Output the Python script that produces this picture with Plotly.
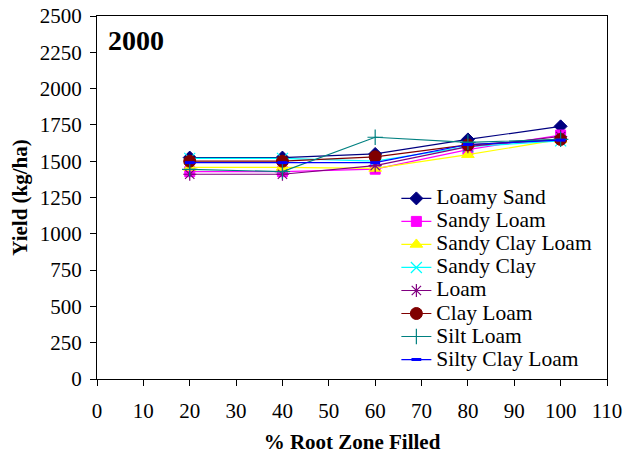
import plotly.graph_objects as go

x_vals = [20, 40, 60, 80, 100]
series_names = ["Loamy Sand", "Sandy Loam", "Sandy Clay Loam", "Sandy Clay",
                "Loam", "Clay Loam", "Silt Loam", "Silty Clay Loam"]
loamy_sand = [1525, 1525, 1550, 1650, 1740]
sandy_loam = [1428, 1428, 1445, 1580, 1680]
sandy_clay_loam = [1457, 1457, 1450, 1545, 1650]
sandy_clay = [1520, 1520, 1500, 1600, 1640]
loam = [1410, 1410, 1470, 1600, 1670]
clay_loam = [1500, 1500, 1530, 1612, 1650]
silt_loam = [1444, 1428, 1665, 1630, 1650]
silty_clay_loam = [1490, 1490, 1490, 1615, 1645]
values = [loamy_sand, sandy_loam, sandy_clay_loam, sandy_clay, loam,
          clay_loam, silt_loam, silty_clay_loam]

colors = ["#000080", "#FF00FF", "#FFFF00", "#00FFFF", "#800080", "#800000", "#008080", "#0000FF"]
symbols = ["diamond", "square", "triangle-up", "x-thin", "asterisk", "circle", "cross-thin", "line-ew"]
sizes = [10, 10, 11, 11, 11, 12, 11, 7]

fig = go.Figure()
for name, vals, c, s, sz in zip(series_names, values, colors, symbols, sizes):
    marker = dict(symbol=s, color=c, size=sz, line=dict(color=c, width=1))
    if s in ("x-thin", "asterisk", "cross-thin"):
        marker["line"] = dict(color=c, width=1.2)
    if s == "line-ew":
        marker["line"] = dict(color=c, width=3)
    fig.add_trace(go.Scatter(x=x_vals, y=vals,
                             name="<span style='font-size:21.5px'>" + name + "</span>",
                             mode="lines+markers",
                             line=dict(color=c, width=1.2), marker=marker))

font_family = "Liberation Serif, Times New Roman, serif"
fig.update_layout(
    width=627, height=454,
    margin=dict(l=97, r=20, t=16, b=75),
    paper_bgcolor="white", plot_bgcolor="white",
    font=dict(family=font_family, size=21, color="black"),
    showlegend=True,
    legend=dict(x=0.587, y=0.543, xanchor="left", yanchor="top",
                font=dict(family=font_family, size=15.4, color="black"),
                bgcolor="rgba(0,0,0,0)", tracegroupgap=0, itemwidth=30),
    xaxis=dict(range=[0, 110], dtick=10, tick0=0, showgrid=False, zeroline=False,
               showline=True, linecolor="black", linewidth=1, mirror=True,
               ticks="outside", ticklen=6, tickcolor="black", ticklabelstandoff=7,
               automargin=False,
               title=dict(text="<b>% Root Zone Filled</b>", font=dict(size=21), standoff=14)),
    yaxis=dict(range=[0, 2500], dtick=250, tick0=0, showgrid=False, zeroline=False,
               showline=True, linecolor="black", linewidth=1, mirror=True,
               ticks="outside", ticklen=6, tickcolor="black", ticklabelstandoff=4,
               automargin=False,
               title=dict(text="<b>Yield (kg/ha)</b>", font=dict(size=21), standoff=6)),
    annotations=[dict(text="<b>2000</b>", x=0.017, y=0.98, xref="paper", yref="paper",
                      xanchor="left", yanchor="top", showarrow=False,
                      font=dict(family=font_family, size=28, color="black"))],
)

fig.write_html("out.html")
